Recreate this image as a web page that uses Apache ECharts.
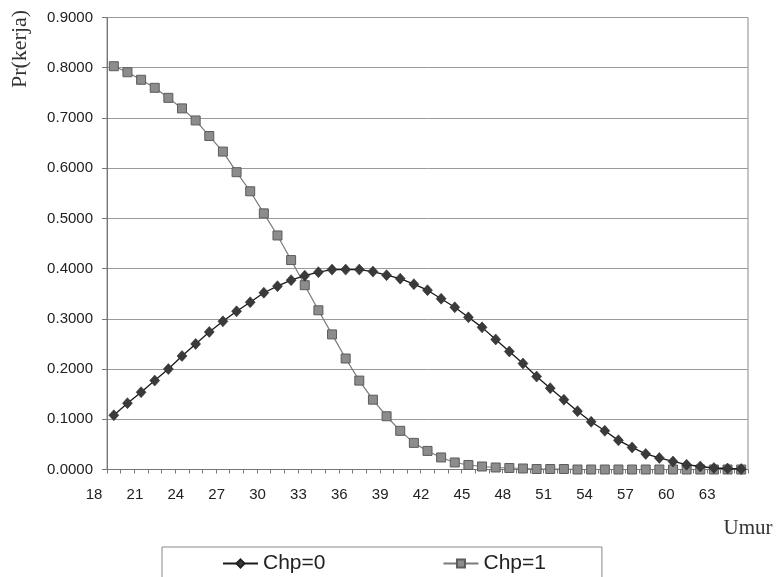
<!DOCTYPE html>
<html>
<head>
<meta charset="utf-8">
<script src="https://cdn.jsdelivr.net/npm/echarts@6.0.0/dist/echarts.min.js"></script>
<style>
  html, body { margin: 0; padding: 0; background: #ffffff; }
  #chart { width: 779px; height: 577px; }
</style>
</head>
<body>
<div id="chart"></div>
<script>
// ---- data ----
var ages = [19,20,21,22,23,24,25,26,27,28,29,30,31,32,33,34,35,36,37,38,39,40,41,42,
            43,44,45,46,47,48,49,50,51,52,53,54,55,56,57,58,59,60,61,62,63,64,65];

var chp0 = [0.108,0.132,0.154,0.177,0.200,0.226,0.250,0.274,0.295,0.315,
            0.333,0.352,0.365,0.377,0.386,0.393,0.398,0.398,0.398,0.394,
            0.387,0.380,0.369,0.357,0.340,0.323,0.303,0.283,0.259,0.235,
            0.211,0.185,0.162,0.139,0.116,0.095,0.077,0.058,0.044,0.031,
            0.023,0.016,0.0095,0.006,0.003,0.002,0.001];

var chp1 = [0.803,0.791,0.776,0.760,0.740,0.719,0.695,0.664,0.633,0.592,
            0.554,0.510,0.466,0.417,0.367,0.317,0.269,0.221,0.177,0.139,
            0.106,0.077,0.053,0.037,0.024,0.014,0.009,0.006,0.004,0.003,
            0.002,0.001,0.001,0.001,0.000,0.000,0.000,0.000,0.000,0.000,
            0.000,0.000,0.000,0.000,0.000,0.000,0.000];

var xTickLabels = [18,21,24,27,30,33,36,39,42,45,48,51,54,57,60,63];

var seriesNames = ['Chp=0', 'Chp=1'];
var yAxisTitle = 'Pr(kerja)';
var xAxisTitle = 'Umur';

// ---- chart ----
var chart = echarts.init(document.getElementById('chart'), null, { renderer: 'canvas' });

var sans = '"Liberation Sans", Arial, sans-serif';
var serif = '"Liberation Serif", "Times New Roman", serif';

var option = {
  animation: false,
  backgroundColor: '#ffffff',
  grid: [
    { left: 107, right: 31, top: 17.5, bottom: 107.5, show: true,
      borderColor: '#8a8a8a', borderWidth: 1, backgroundColor: '#ffffff' },
    { left: 94, right: 31, top: 17.5, bottom: 107.5, show: false }
  ],
  xAxis: [
    {
      gridIndex: 0,
      type: 'category',
      data: ages,
      boundaryGap: true,
      axisLine: { show: true, lineStyle: { color: '#777', width: 1 } },
      axisTick: { show: true, interval: 0, length: 4, lineStyle: { color: '#777' } },
      axisLabel: { show: false },
      splitLine: { show: false }
    },
    {
      gridIndex: 1,
      type: 'value',
      min: 18,
      max: 66,
      interval: 3,
      axisLine: { show: false },
      axisTick: { show: false },
      splitLine: { show: false },
      axisLabel: {
        show: true,
        customValues: xTickLabels,
        margin: 18,
        fontFamily: sans,
        fontSize: 15,
        color: '#222'
      }
    }
  ],
  yAxis: [
    {
      gridIndex: 0,
      type: 'value',
      min: 0,
      max: 0.9,
      interval: 0.1,
      axisLine: { show: true, lineStyle: { color: '#777', width: 1 } },
      axisTick: { show: true, length: 5, lineStyle: { color: '#777' } },
      splitLine: { show: true, lineStyle: { color: '#9a9a9a', width: 1 } },
      axisLabel: {
        margin: 14,
        fontFamily: sans,
        fontSize: 15,
        color: '#222',
        formatter: function (v) { return v.toFixed(4); }
      }
    },
    { gridIndex: 1, type: 'value', show: false, min: 0, max: 0.9 }
  ],
  legend: {
    data: seriesNames,
    left: 162,
    top: 547,
    padding: [6, 56, 30, 60],
    itemWidth: 35,
    itemHeight: 10,
    itemGap: 117,
    borderColor: '#888',
    borderWidth: 1,
    backgroundColor: '#ffffff',
    textStyle: { fontFamily: sans, fontSize: 21, color: '#222' }
  },
  graphic: [
    {
      type: 'text',
      x: 20, y: 49,
      rotation: Math.PI / 2,
      style: { text: yAxisTitle, font: '22px ' + serif, fill: '#333',
               textAlign: 'center', textVerticalAlign: 'middle' }
    },
    {
      type: 'text',
      x: 748, y: 528,
      style: { text: xAxisTitle, font: '21px ' + serif, fill: '#333',
               textAlign: 'center', textVerticalAlign: 'middle' }
    }
  ],
  series: [
    {
      name: seriesNames[0],
      type: 'line',
      xAxisIndex: 0, yAxisIndex: 0,
      data: chp0,
      z: 3,
      symbol: 'diamond',
      symbolSize: [10, 11],
      showAllSymbol: true,
      itemStyle: { color: '#3a3a3a', borderColor: '#222', borderWidth: 0.5 },
      lineStyle: { color: '#1a1a1a', width: 1.3 }
    },
    {
      name: seriesNames[1],
      type: 'line',
      xAxisIndex: 0, yAxisIndex: 0,
      data: chp1,
      z: 2,
      symbol: 'rect',
      symbolSize: 9,
      showAllSymbol: true,
      itemStyle: { color: '#8c8c8c', borderColor: '#5c5c5c', borderWidth: 1 },
      lineStyle: { color: '#7a7a7a', width: 1.2 }
    }
  ]
};

chart.setOption(option);
</script>
</body>
</html>
